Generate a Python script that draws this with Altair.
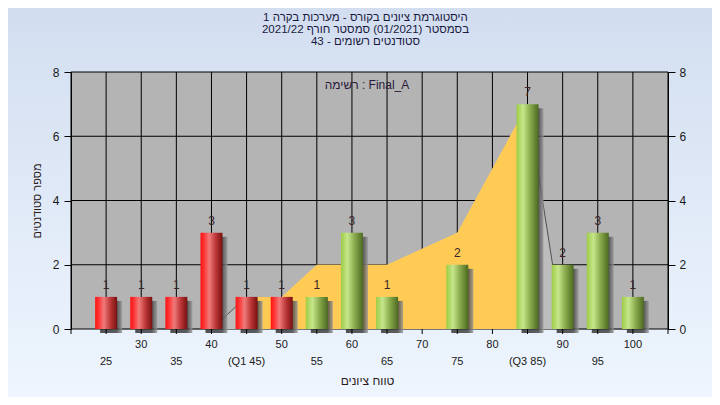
import altair as alt
import pandas as pd

# ---------------- data ----------------
grades = [25, 30, 35, 40, 45, 50, 55, 60, 65, 70, 75, 80, 85, 90, 95, 100]
counts = [1, 1, 1, 3, 1, 1, 1, 3, 1, 0, 2, 0, 7, 2, 3, 1]
groups = ["fail"] * 6 + ["pass"] * 10
tick_labels = ["25", "30", "35", "40", "(Q1 45)", "50", "55", "60", "65",
               "70", "75", "80", "(Q3 85)", "90", "95", "100"]
grid_x = [20, 25, 30, 35, 40, 45, 50, 55, 60, 65, 70, 75, 80, 85, 90, 95, 100, 105]
grid_y = [0, 2, 4, 6, 8]
poly_x = [25, 30, 35, 40, 45, 50, 55, 60, 65, 75, 80, 85, 90, 95, 100]
poly_y = [0, 0, 0, 0, 1, 1, 2, 2, 2, 3, 5, 7, 0, 0, 0]
q1, q3 = 45, 85

title_lines = ["היסטוגרמת ציונים בקורס - מערכות בקרה 1",
               "בסמסטר  (01/2021)  סמסטר חורף 2021/22",
               "סטודנטים רשומים - 43"]
list_label = "רשימה : Final_A"
x_title = "טווח ציונים"
y_title = "מספר סטודנטים"

FONT = "Liberation Sans"
W, H = 597, 257

# ---------------- frames ----------------
bars_df = pd.DataFrame({"grade": grades, "count": counts, "group": groups})
lab_df = pd.DataFrame({"grade": grades, "label": tick_labels,
                       "row": [2 if i % 2 == 0 else 1 for i in range(len(grades))]})
gx_df = pd.DataFrame({"gx": grid_x})
gy_df = pd.DataFrame({"gy": grid_y})
poly_df = pd.DataFrame({"px": poly_x, "py": poly_y})
poly_df["seg"] = ["a" if v <= q1 else ("b" if v >= q3 else "mid") for v in poly_x]
one = pd.DataFrame({"k": [0]})

xs = alt.Scale(domain=[20, 105], nice=False, zero=False, padding=0)
ys = alt.Scale(domain=[0, 8], nice=False, zero=True, padding=0)

y_axis = alt.Axis(values=grid_y, grid=False, zindex=2, orient="left",
                  domainColor="black", tickColor="black", tickSize=7,
                  labelFont=FONT, labelFontSize=12, labelColor="#1a1a1a",
                  labelPadding=5, title=y_title, titleFont=FONT, titleFontSize=11,
                  titleFontWeight="normal", titleColor="#2a1a1a", titlePadding=10)

y_axis_r = alt.Axis(values=grid_y, grid=False, zindex=2, orient="right",
                    domainColor="black", tickColor="black", tickSize=7,
                    labelFont=FONT, labelFontSize=12, labelColor="#1a1a1a",
                    labelPadding=4, title=None)

bg_grad = alt.Gradient(gradient="linear", x1=0, x2=0, y1=0, y2=1,
                       stops=[alt.GradientStop(offset=0, color="#d2def0"),
                              alt.GradientStop(offset=1, color="#eef5fe")])
red_grad = alt.Gradient(gradient="linear", x1=0, x2=1, y1=0, y2=0,
                        stops=[alt.GradientStop(offset=0, color="#ff1212"),
                               alt.GradientStop(offset=0.15, color="#ff3030"),
                               alt.GradientStop(offset=0.4, color="#f07a7a"),
                               alt.GradientStop(offset=0.7, color="#bb3636"),
                               alt.GradientStop(offset=1, color="#761010")])
green_grad = alt.Gradient(gradient="linear", x1=0, x2=1, y1=0, y2=0,
                          stops=[alt.GradientStop(offset=0, color="#9ccc44"),
                                 alt.GradientStop(offset=0.3, color="#c6e68c"),
                                 alt.GradientStop(offset=0.6, color="#8eae50"),
                                 alt.GradientStop(offset=1, color="#4c6a20")])
shadow_grad = alt.Gradient(gradient="linear", x1=0, x2=1, y1=0, y2=0,
                           stops=[alt.GradientStop(offset=0, color="#2a2a2a"),
                                  alt.GradientStop(offset=0.75, color="#383838"),
                                  alt.GradientStop(offset=1, color="#999999")])

# ---------------- layers (flat) ----------------
bg = alt.Chart(one).mark_rect(color=bg_grad).encode(
    x=alt.value(-63), x2=alt.value(W + 44), y=alt.value(-64), y2=alt.value(H + 68))

title_text = alt.Chart(one).mark_text(font=FONT, fontSize=11.5, color="#1a1a40",
                                      align="center", baseline="top",
                                      lineHeight=12).encode(
    x=alt.value(W / 2 - 4), y=alt.value(-60), text=alt.value(title_lines))

plot_rect = alt.Chart(one).mark_rect(color="#b4b4b4").encode(
    x=alt.X(datum=20, scale=xs, axis=None), x2=alt.X2(datum=105),
    y=alt.Y(datum=0, scale=ys, axis=None), y2=alt.Y2(datum=8))

vgrid = alt.Chart(gx_df).mark_rule(color="black", strokeWidth=1).encode(
    x=alt.X("gx:Q", scale=xs, axis=None),
    y=alt.Y(datum=0, scale=ys, axis=None), y2=alt.Y2(datum=8))

hgrid = alt.Chart(gy_df).mark_rule(color="black", strokeWidth=1).encode(
    y=alt.Y("gy:Q", scale=ys, axis=y_axis),
    x=alt.X(datum=20, scale=xs, axis=None), x2=alt.X2(datum=105))

area_light = alt.Chart(poly_df).mark_area(color="#bdbdbd").encode(
    x=alt.X("px:Q", scale=xs, axis=None), y=alt.Y("py:Q", scale=ys, axis=None))

area_yellow = alt.Chart(poly_df).transform_filter(
    f"datum.px >= {q1} && datum.px <= {q3}").mark_area(color="#ffcb55").encode(
    x=alt.X("px:Q", scale=xs, axis=None), y=alt.Y("py:Q", scale=ys, axis=None))

outline = alt.Chart(poly_df).transform_filter("datum.seg != 'mid'").mark_line(
    color="#505050", strokeWidth=1).encode(
    x=alt.X("px:Q", scale=xs, axis=None), y=alt.Y("py:Q", scale=ys, axis=None),
    detail="seg:N")

nonzero = alt.Chart(bars_df).transform_filter("datum.count > 0")

shadows = nonzero.mark_bar(size=22, color=shadow_grad, opacity=0.8,
                           xOffset=5, yOffset=4).encode(
    x=alt.X("grade:Q", scale=xs, axis=None),
    y=alt.Y("count:Q", scale=ys, axis=None))

red_bars = nonzero.transform_filter("datum.group == 'fail'").mark_bar(
    size=22, color=red_grad).encode(
    x=alt.X("grade:Q", scale=xs, axis=None),
    y=alt.Y("count:Q", scale=ys, axis=None))

green_bars = nonzero.transform_filter("datum.group == 'pass'").mark_bar(
    size=22, color=green_grad).encode(
    x=alt.X("grade:Q", scale=xs, axis=None),
    y=alt.Y("count:Q", scale=ys, axis=None))

labels = nonzero.mark_text(baseline="bottom", dy=-5, font=FONT, fontSize=12,
                           color="#3a2428").encode(
    x=alt.X("grade:Q", scale=xs, axis=None),
    y=alt.Y("count:Q", scale=ys, axis=None),
    text="count:Q")

# x axis drawn from marks: ticks, two label rows, title
x_ticks = alt.Chart(gx_df).mark_rule(color="black", strokeWidth=1).encode(
    x=alt.X("gx:Q", scale=xs, axis=None), y=alt.value(H), y2=alt.value(H + 5))

row1_labels = alt.Chart(lab_df).transform_filter("datum.row == 1").mark_text(
    font=FONT, fontSize=11, color="#202020", baseline="middle", align="center").encode(
    x=alt.X("grade:Q", scale=xs, axis=None),
    y=alt.value(H + 16), text="label:N")

row2_labels = alt.Chart(lab_df).transform_filter("datum.row == 2").mark_text(
    font=FONT, fontSize=11, color="#202020", baseline="middle", align="center").encode(
    x=alt.X("grade:Q", scale=xs, axis=None),
    y=alt.value(H + 33), text="label:N")

x_title_text = alt.Chart(one).mark_text(font=FONT, fontSize=12, color="#2a1a1a",
                                        baseline="middle", align="center").encode(
    x=alt.value(W / 2 - 2), y=alt.value(H + 52), text=alt.value(x_title))

list_text = alt.Chart(one).mark_text(font=FONT, fontSize=12, color="#2a1a3a",
                                     baseline="middle", align="center").encode(
    x=alt.value(296), y=alt.value(13), text=alt.value(list_label))

right = alt.Chart(gy_df).mark_rule(opacity=0).encode(
    y=alt.Y("gy:Q", scale=ys, axis=y_axis_r))

chart = alt.layer(bg, title_text, plot_rect, vgrid, hgrid, area_light, area_yellow,
                  outline, shadows, red_bars, green_bars, labels, x_ticks,
                  row1_labels, row2_labels, x_title_text, list_text, right
                  ).resolve_scale(y="independent").properties(
    width=W, height=H,
    autosize=alt.AutoSizeParams(type="none"),
    padding={"left": 63, "top": 64, "right": 44, "bottom": 68},
    background="#e2ebf7",
).configure_view(stroke=None)

chart.save("out.html", embed_options={"renderer": "svg", "actions": False})
